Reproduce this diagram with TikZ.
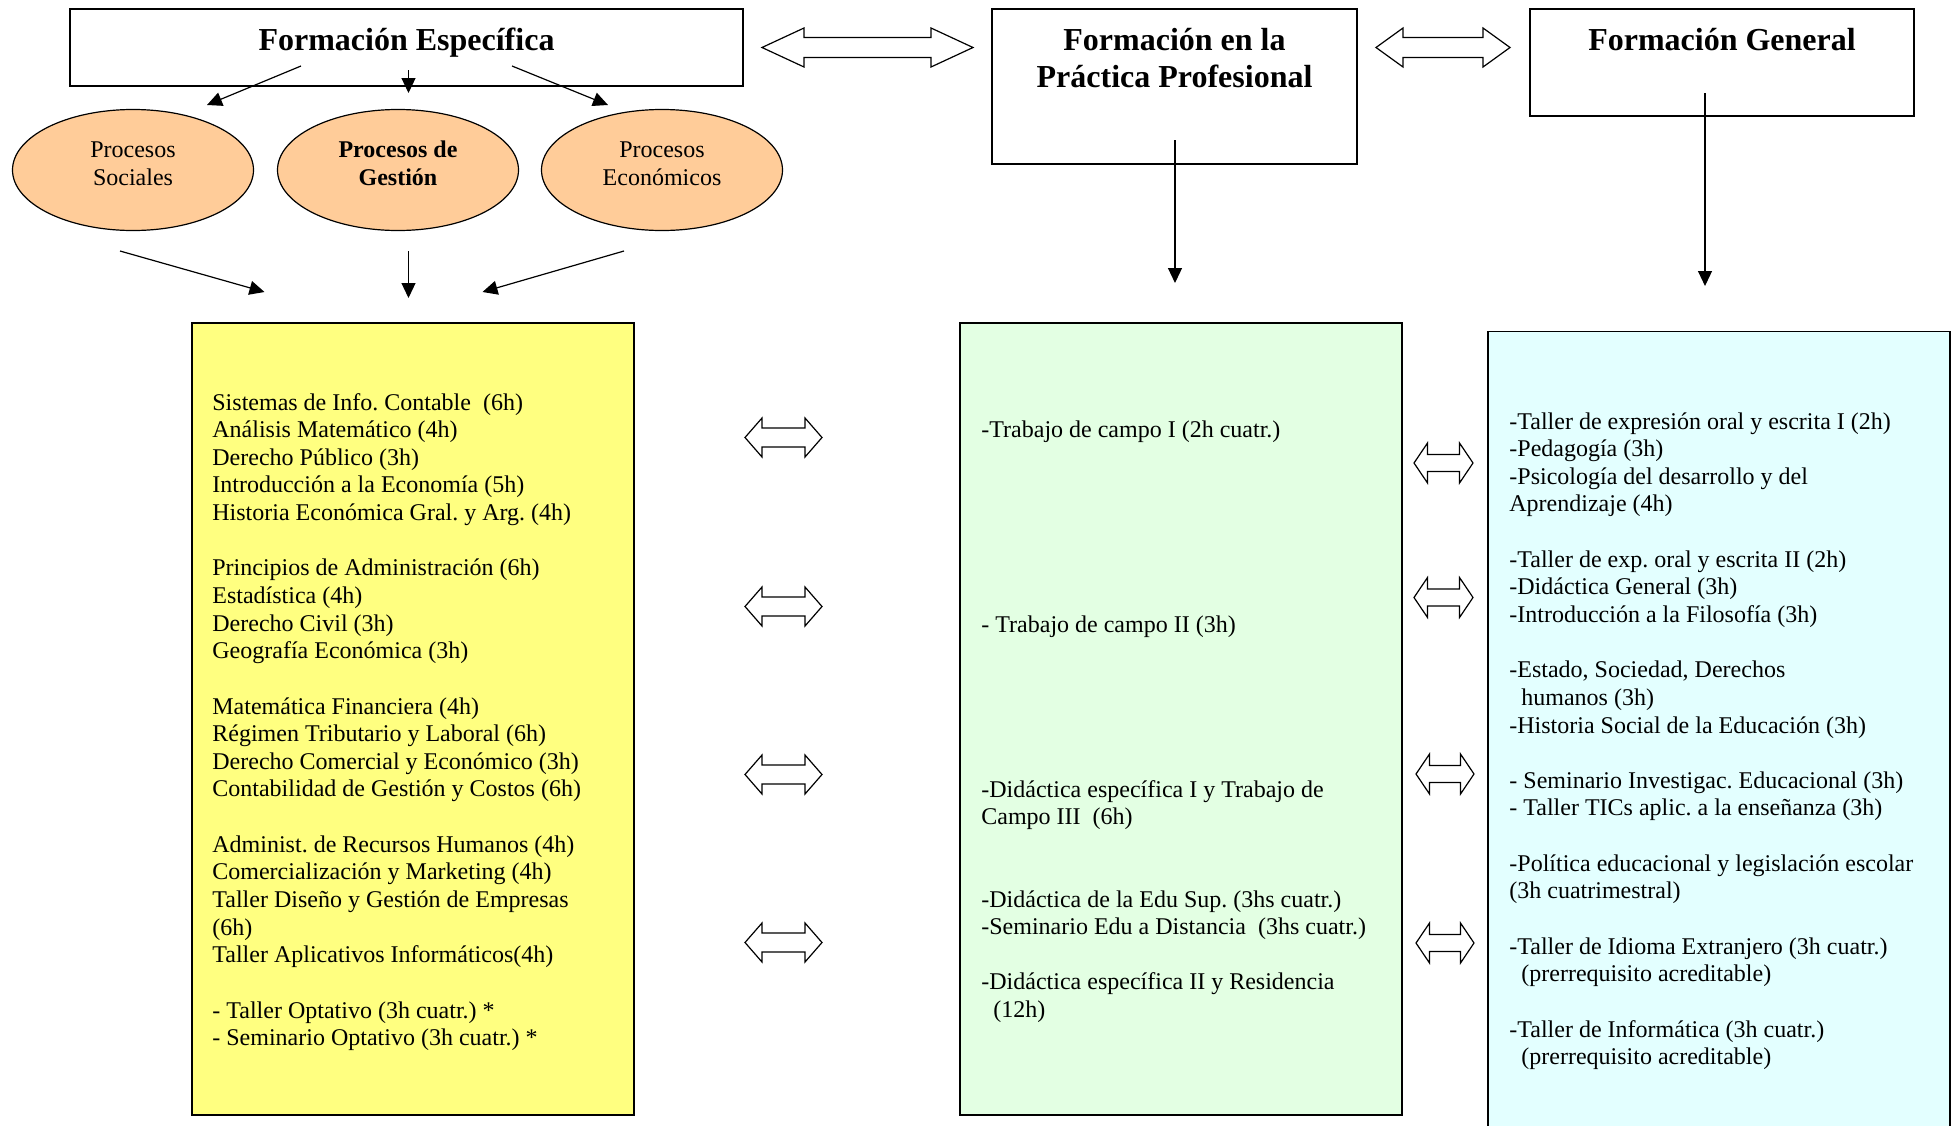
\documentclass[tikz,border=0pt]{standalone}
\usepackage{fontspec}
\setmainfont{Liberation Serif}
\usetikzlibrary{arrows.meta,shapes.geometric}
\definecolor{peach}{HTML}{FFCC99}
\definecolor{yel}{HTML}{FFFF80}
\definecolor{grn}{HTML}{E3FFE3}
\definecolor{cyn}{HTML}{E3FFFF}
\frenchspacing
\newcommand\dbar[6]{%
  \draw[blockarrow] ({#1},{#3}) -- ({#1+#4},{#3-#6}) -- ({#1+#4},{#3-#5}) --
    ({#2-#4},{#3-#5}) -- ({#2-#4},{#3-#6}) -- ({#2},{#3}) -- ({#2-#4},{#3+#6}) --
    ({#2-#4},{#3+#5}) -- ({#1+#4},{#3+#5}) -- ({#1+#4},{#3+#6}) -- cycle;}
\begin{document}
\begin{tikzpicture}[x=0.5pt,y=-0.5pt,
  titlebox/.style={draw, line width=0.8pt, fill=white, inner sep=0},
  listbox/.style={draw, line width=0.8pt, inner sep=0},
  oval/.style={ellipse, draw, line width=0.6pt, fill=peach, inner sep=0,
    minimum width=120.5pt, minimum height=60.5pt},
  ttl/.style={inner sep=0, anchor=base, font=\fontsize{16pt}{18.5pt}\selectfont\bfseries},
  otxt/.style={inner sep=0, anchor=base, font=\fontsize{12pt}{14pt}\selectfont},
  txt/.style={inner sep=0, anchor=base west, font=\fontsize{12pt}{13.82pt}\selectfont},
  arr/.style={line width=0.6pt, -{Triangle[length=7.5pt,width=7pt]}},
  blockarrow/.style={draw, line width=0.6pt, fill=white, line join=miter}]
\useasboundingbox (0,0) rectangle (1954,1125);
\fill[white] (0,0) rectangle (1954,1125);

% top boxes
\node[titlebox, minimum width=336.5pt, minimum height=38.5pt] (fe) at (406.5,47.5) {};
\node[ttl] (fet) at (406.5,50) {Formación Específica};
\node[titlebox, minimum width=182.5pt, minimum height=77.5pt] (fpp) at (1174.5,86.5) {};
\node[ttl] (fppt1) at (1174.5,50) {Formación en la};
\node[ttl] (fppt2) at (1174.5,87) {Práctica Profesional};
\node[titlebox, minimum width=192pt, minimum height=53.5pt] (fg) at (1722,62.5) {};
\node[ttl] (fgt) at (1722,50) {Formación General};

% top block arrows
\dbar{762}{973}{47.5}{42}{10}{19.5}
\dbar{1376}{1510}{47.5}{27}{10}{19.5}

% ellipses
\node[oval] (e1) at (133,170) {};
\node[otxt] (e1a) at (133,157) {Procesos};
\node[otxt] (e1b) at (133,185) {Sociales};
\node[oval] (e2) at (398,170) {};
\node[otxt, font=\fontsize{12pt}{14pt}\selectfont\bfseries] (e2a) at (398,157) {Procesos de};
\node[otxt, font=\fontsize{12pt}{14pt}\selectfont\bfseries] (e2b) at (398,185) {Gestión};
\node[oval] (e3) at (662,170) {};
\node[otxt] (e3a) at (662,157) {Procesos};
\node[otxt] (e3b) at (662,185) {Económicos};

% arrows from FE to ellipses
\coordinate (fa1) at (301,66);  \coordinate (fa1e) at (207,105);
\coordinate (fa2) at (408.5,70); \coordinate (fa2e) at (408.5,93);
\coordinate (fa3) at (512,66);  \coordinate (fa3e) at (608,105);
\draw[arr] (fa1) -- (fa1e);
\draw[arr] (fa2) -- (fa2e);
\draw[arr] (fa3) -- (fa3e);

% arrows from ellipses to yellow list
\coordinate (ea1) at (120,251);   \coordinate (ea1e) at (264.5,292);
\coordinate (ea2) at (408.5,251); \coordinate (ea2e) at (408.5,298);
\coordinate (ea3) at (624,251);   \coordinate (ea3e) at (482.5,292);
\draw[arr] (ea1) -- (ea1e);
\draw[arr] (ea2) -- (ea2e);
\draw[arr] (ea3) -- (ea3e);

% down arrows
\coordinate (pa) at (1175,140); \coordinate (pae) at (1175,283);
\coordinate (ga) at (1705,93);  \coordinate (gae) at (1705,286);
\draw[arr] (pa) -- (pae);
\draw[arr] (ga) -- (gae);

% list boxes
\node[listbox, fill=yel, minimum width=221pt, minimum height=396pt] (yb) at (413,719) {};
\node[listbox, fill=grn, minimum width=221pt, minimum height=396pt] (gb) at (1181,719) {};
\draw[line width=0.8pt, fill=cyn] (1488,331.5) rectangle (1950,1140);
\coordinate (cb) at (1719,331.5);

% yellow list
\node[txt] (ylist) at (212,410) {\vtop{\baselineskip=13.82pt
\hbox{Sistemas de Info. Contable\ \ (6h)}
\hbox{Análisis Matemático (4h)}
\hbox{Derecho Público (3h)}
\hbox{Introducción a la Economía (5h)}
\hbox{Historia Económica Gral. y Arg. (4h)}
\hbox{}
\hbox{Principios de Administración (6h)}
\hbox{Estadística (4h)}
\hbox{Derecho Civil (3h)}
\hbox{Geografía Económica (3h)}
\hbox{}
\hbox{Matemática Financiera (4h)}
\hbox{Régimen Tributario y Laboral (6h)}
\hbox{Derecho Comercial y Económico (3h)}
\hbox{Contabilidad de Gestión y Costos (6h)}
\hbox{}
\hbox{Administ. de Recursos Humanos (4h)}
\hbox{Comercialización y Marketing (4h)}
\hbox{Taller Diseño y Gestión de Empresas}
\hbox{(6h)}
\hbox{Taller Aplicativos Informáticos(4h)}
\hbox{}
\hbox{- Taller Optativo (3h cuatr.) *}
\hbox{- Seminario Optativo (3h cuatr.) *}}};

% green list
\node[txt] (g1) at (981,437) {-Trabajo de campo I (2h cuatr.)};
\node[txt] (g2) at (981,632) {- Trabajo de campo II (3h)};
\node[txt] (g3) at (981,797) {\vtop{\baselineskip=13.82pt
\hbox{-Didáctica específica I y Trabajo de}
\hbox{Campo III\ \ (6h)}}};
\node[txt] (g4) at (981,907) {\vtop{\baselineskip=13.82pt
\hbox{-Didáctica de la Edu Sup. (3hs cuatr.)}
\hbox{-Seminario Edu a Distancia\ \ (3hs cuatr.)}
\hbox{}
\hbox{-Didáctica específica II y Residencia}
\hbox{\hskip6pt(12h)}}};

% cyan list
\node[txt] (clist) at (1509,429) {\vtop{\baselineskip=13.82pt
\hbox{-Taller de expresión oral y escrita I (2h)}
\hbox{-Pedagogía (3h)}
\hbox{-Psicología del desarrollo y del}
\hbox{Aprendizaje (4h)}
\hbox{}
\hbox{-Taller de exp. oral y escrita II (2h)}
\hbox{-Didáctica General (3h)}
\hbox{-Introducción a la Filosofía (3h)}
\hbox{}
\hbox{-Estado, Sociedad, Derechos}
\hbox{\hskip6pt humanos (3h)}
\hbox{-Historia Social de la Educación (3h)}
\hbox{}
\hbox{- Seminario Investigac. Educacional (3h)}
\hbox{- Taller TICs aplic. a la enseñanza (3h)}
\hbox{}
\hbox{-Política educacional y legislación escolar}
\hbox{(3h cuatrimestral)}
\hbox{}
\hbox{-Taller de Idioma Extranjero (3h cuatr.)}
\hbox{\hskip6pt(prerrequisito acreditable)}
\hbox{}
\hbox{-Taller de Informática (3h cuatr.)}
\hbox{\hskip6pt(prerrequisito acreditable)}}};

% block arrows between lists
\dbar{745}{822}{437.5}{17}{9.5}{19.5}
\dbar{745}{822}{606.5}{17}{9.5}{19.5}
\dbar{745}{822}{774.5}{17}{9.5}{19.5}
\dbar{745}{822}{942.5}{17}{9.5}{19.5}
\dbar{1414}{1473}{463}{13.5}{8.5}{20}
\dbar{1414}{1473}{597.5}{13.5}{8.5}{20}
\dbar{1416}{1474}{774}{13.5}{8.5}{20}
\dbar{1416}{1474}{943}{13.5}{8.5}{20}
\end{tikzpicture}
\end{document}
